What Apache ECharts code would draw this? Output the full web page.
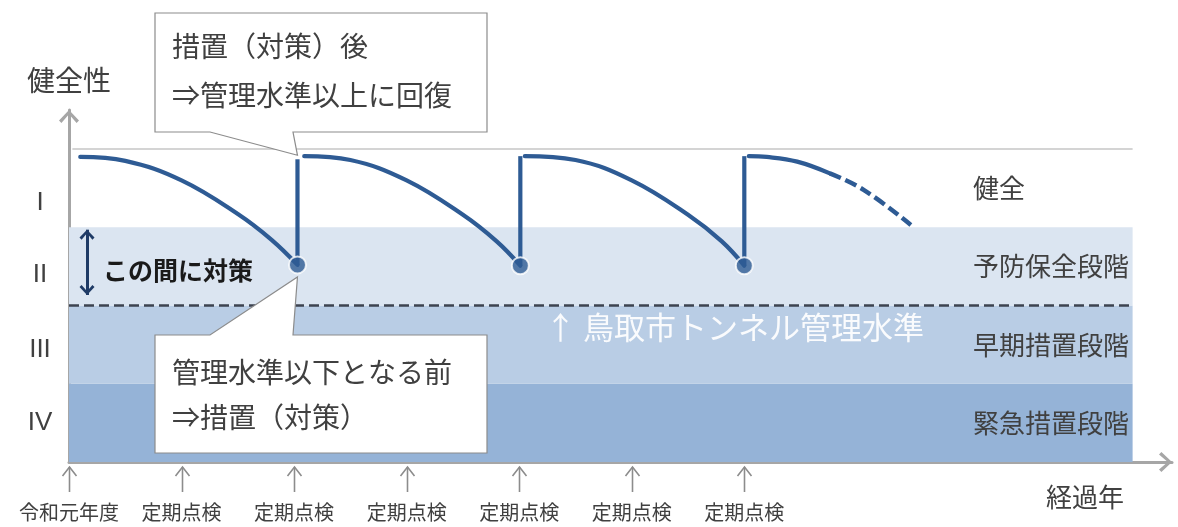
<!DOCTYPE html>
<html>
<head>
<meta charset="utf-8">
<script src="https://cdn.jsdelivr.net/npm/echarts@6/dist/echarts.min.js"></script>
<style>
  html, body { margin: 0; padding: 0; background: #ffffff; }
  #chart { width: 1178px; height: 527px; }
</style>
</head>
<body>
<div id="chart"></div>
<script>
// 経過年の目盛り（0 = 令和元年度、以降は定期点検）
const tickLabels = ['令和元年度', '定期点検', '定期点検', '定期点検', '定期点検', '定期点検', '定期点検'];
// 健全性の判定区分（下から順）
const levelLabels = ['IV', 'III', 'II', 'I'];
const stageNames = ['緊急措置段階', '早期措置段階', '予防保全段階', '健全'];
// 管理水準（区分 II と III の境界）
const managementLevel = 2;
const healthyTop = 4;
const bandEnd = 9.45;

// 劣化曲線（点検周期ごと）
const decay1 = [[0.1, 3.9], [0.5, 3.85], [1.0, 3.6], [1.5, 3.17], [1.8, 2.84], [2.03, 2.52]];
const decay2 = [[2.09, 3.91], [2.5, 3.86], [3.0, 3.6], [3.5, 3.16], [3.8, 2.82], [4.01, 2.51]];
const decay3 = [[4.05, 3.91], [4.5, 3.86], [5.0, 3.6], [5.5, 3.16], [5.8, 2.82], [6.0, 2.51]];
const decay4 = [[6.04, 3.91], [6.2, 3.9], [6.47, 3.84], [6.76, 3.69]];
const decay4Forecast = [[6.76, 3.69], [7.06, 3.48], [7.48, 3.03]];
// 措置（対策）による回復: [経過年, 措置前, 措置後]
const repairs = [[2.03, 2.52, 3.87], [4.01, 2.51, 3.91], [6.0, 2.51, 3.91]];
// 「この間に対策」の範囲
const actionRange = [0.16, 2.135, 2.97];

const FONT = '"Noto Sans CJK JP", "Noto Sans", sans-serif';
const TEXT = '#404040';
const AXIS = '#a6a6a6';
const CURVE = '#2e5b94';
const TICK = '#8c8c8c';
const stageColors = ['#95b3d7', '#b9cde5', '#dbe5f1', 'rgba(255,255,255,0)'];

// 開いた矢じり（先端がシンボル中心に来るよう上側に余白を持たせる）
function chevron(w, h, t) {
  const c = w / 2;
  return 'path://M' + c + ',0 L' + w + ',' + (h - t * 0.8) + ' L' + (w - t * 0.8) + ',' + h +
    ' L' + c + ',' + (t * 1.4) + ' L' + (t * 0.8) + ',' + h + ' L0,' + (h - t * 0.8) + ' Z' +
    ' M' + c + ',' + (-h) + ' L' + c + ',' + (-h) + ' Z';
}

const chart = echarts.init(document.getElementById('chart'), null, { renderer: 'canvas' });

function curve(data, extra) {
  return Object.assign({
    type: 'line', data: data, smooth: 0.4, symbol: 'none',
    z: 3, silent: true,
    lineStyle: { color: CURVE, width: 4.2, cap: 'round' }
  }, extra || {});
}

const romanFont = '"Liberation Sans Narrow", sans-serif';
const levelRich = {
  lv0: { fontSize: 26, fontFamily: romanFont, color: TEXT },
  lv1: { fontSize: 26, fontFamily: romanFont, color: TEXT, padding: [10, 0, 0, 0] },
  lv2: { fontSize: 26, fontFamily: romanFont, color: TEXT, padding: [16, 0, 0, 0] },
  lv3: { fontSize: 26, fontFamily: romanFont, color: TEXT, padding: [30, 0, 0, 0] }
};

const series = [
  // 判定区分の帯
  {
    type: 'line', data: [], z: 1, silent: true,
    markArea: {
      silent: true,
      label: {
        show: true, position: [904, '50%'], align: 'left', verticalAlign: 'middle',
        fontSize: 26, fontFamily: FONT, color: TEXT
      },
      data: stageNames.map(function (n, i) {
        return [
          { name: n, xAxis: 0, yAxis: i, itemStyle: { color: stageColors[i] } },
          { xAxis: bandEnd, yAxis: i + 1 }
        ];
      })
    }
  },
  // 管理水準の破線と健全上限線
  {
    type: 'line', data: [], z: 2, silent: true,
    markLine: {
      silent: true, symbol: 'none', label: { show: false },
      data: [
        [{ coord: [0, managementLevel], lineStyle: { color: '#3d4350', width: 2.5, type: [10, 5] } },
         { coord: [bandEnd, managementLevel] }],
        [{ coord: [0.03, healthyTop], lineStyle: { color: '#c6c6c6', width: 1.5, type: 'solid' } },
         { coord: [bandEnd, healthyTop] }]
      ]
    }
  },
  // 「この間に対策」の両矢印
  {
    type: 'line', data: [], z: 3, silent: true,
    markLine: {
      silent: true,
      symbol: [chevron(15, 10, 2.6), chevron(15, 10, 2.6)],
      symbolSize: [15, 20],
      label: { show: false },
      lineStyle: { color: '#1f3b66', width: 3, type: 'solid' },
      data: [[{ coord: [actionRange[0], actionRange[1]] }, { coord: [actionRange[0], actionRange[2]] }]]
    }
  },
  // 目盛り位置の上向き矢印（軸の下に描く）
  {
    type: 'custom', z: 2, silent: true, clip: false,
    data: tickLabels.map(function (l, i) { return [i]; }),
    renderItem: function (params, api) {
      const p = api.coord([api.value(0), 0]);
      const x = Math.round(p[0]) + 0.5;
      const top = p[1] + 5;
      const bottom = p[1] + 30;
      const st = { stroke: TICK, lineWidth: 1.6, fill: null };
      return {
        type: 'group',
        children: [
          { type: 'line', shape: { x1: x, y1: top, x2: x, y2: bottom }, style: st },
          { type: 'polyline', shape: { points: [[x - 7, top + 9], [x, top], [x + 7, top + 9]] }, style: st }
        ]
      };
    }
  },
  curve(decay1),
  curve(decay2),
  curve(decay3),
  curve(decay4),
  curve(decay4Forecast, { lineStyle: { color: CURVE, width: 4.5, type: [12, 5] } })
];

repairs.forEach(function (r) {
  series.push({
    type: 'line', data: [[r[0], r[1]], [r[0], r[2]]], symbol: 'none', z: 3, silent: true,
    lineStyle: { color: CURVE, width: 4.2 }
  });
});

series.push({
  type: 'scatter', z: 4, silent: true,
  data: repairs.map(function (r) { return [r[0], r[1]]; }),
  symbolSize: 17,
  itemStyle: { color: CURVE, borderColor: '#ffffff', borderWidth: 2 }
});

chart.setOption({
  animation: false,
  textStyle: { fontFamily: FONT },
  grid: { left: 69, right: 6, top: 110, bottom: 65 },
  xAxis: {
    type: 'value', min: 0, max: 9.8, interval: 1,
    axisLine: {
      show: true, lineStyle: { color: AXIS, width: 3 },
      symbol: ['none', chevron(20, 13, 3)], symbolSize: [20, 26]
    },
    axisTick: { show: false },
    splitLine: { show: false },
    axisLabel: {
      showMinLabel: true, showMaxLabel: false, margin: 40,
      fontSize: 20, color: TEXT, fontFamily: FONT,
      formatter: function (v) {
        const i = Math.round(v);
        return (Math.abs(v - i) < 1e-6 && tickLabels[i]) ? tickLabels[i] : '';
      }
    }
  },
  yAxis: {
    type: 'value', min: 0, max: 4.5, interval: 0.5,
    name: '健全性', nameLocation: 'end', nameGap: 16,
    nameTextStyle: { fontSize: 28, color: TEXT, fontFamily: FONT, align: 'center' },
    axisLine: {
      show: true, lineStyle: { color: AXIS, width: 3 },
      symbol: ['none', chevron(20, 13, 3)], symbolSize: [20, 26]
    },
    axisTick: { show: false },
    splitLine: { show: false },
    axisLabel: {
      margin: 29, align: 'center',
      formatter: function (v) {
        const i = Math.round(v - 0.5);
        return (Math.abs(v - 0.5 - i) < 1e-6 && levelLabels[i]) ? '{lv' + i + '|' + levelLabels[i] + '}' : '';
      },
      rich: levelRich
    }
  },
  series: series
});

// 吹き出しと注記
const tipTop = chart.convertToPixel({ gridIndex: 0 }, [repairs[0][0], repairs[0][2]]);
const tipDot = chart.convertToPixel({ gridIndex: 0 }, [repairs[0][0], repairs[0][1]]);
const boxStyle = { fill: '#ffffff', stroke: '#8c8c8c', lineWidth: 1.2 };
const calloutFont = '28px "Noto Sans CJK JP"';

function label(text, x, y, font, fill, z) {
  return {
    type: 'text', x: x, y: y, z: z || 12, silent: true,
    style: { text: text, font: font, fill: fill, align: 'left', verticalAlign: 'middle' }
  };
}

chart.setOption({
  graphic: [
    {
      type: 'polygon', z: 10, silent: true,
      shape: { points: [[155, 13], [487, 13], [487, 132], [293, 132], [tipTop[0], tipTop[1] - 4], [210, 132], [155, 132]] },
      style: boxStyle
    },
    label('措置（対策）後', 172, 46, calloutFont, TEXT),
    label('⇒管理水準以上に回復', 172, 95, calloutFont, TEXT),
    {
      type: 'polygon', z: 10, silent: true,
      shape: { points: [[155, 335], [210, 335], [tipDot[0], tipDot[1] + 12], [293, 335], [487, 335], [487, 453], [155, 453]] },
      style: boxStyle
    },
    label('管理水準以下となる前', 172, 372, calloutFont, TEXT),
    label('⇒措置（対策）', 172, 417, calloutFont, TEXT),
    label('この間に対策', 103, 270, 'bold 25px "Noto Sans CJK JP"', '#1a1a1a', 6),
    label('↑ 鳥取市トンネル管理水準', 545, 327, '31px "Noto Sans CJK JP"', 'rgba(255,255,255,0.92)', 6),
    label('経過年', 1046, 497, '26px "Noto Sans CJK JP"', TEXT, 6)
  ]
});
</script>
</body>
</html>
